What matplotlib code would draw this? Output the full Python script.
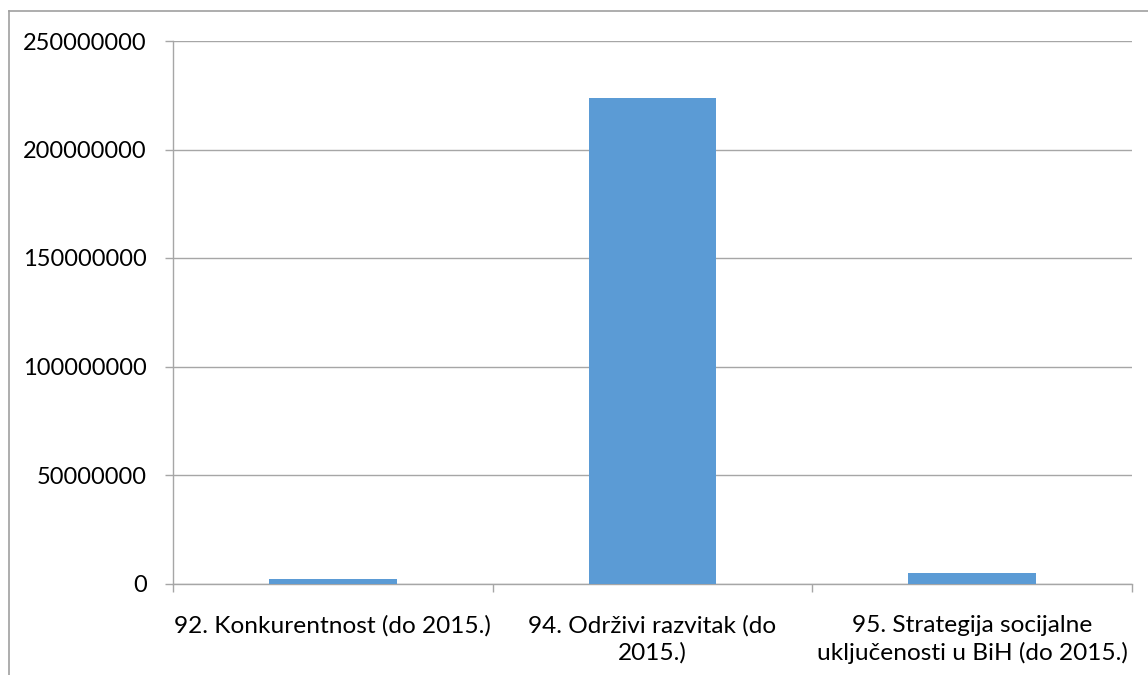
import matplotlib.pyplot as plt
from matplotlib.lines import Line2D
from matplotlib.ticker import MultipleLocator

# values
categories = [
    "92. Konkurentnost (do 2015.)",
    "94. Održivi razvitak (do\n2015.)",
    "95. Strategija socijalne\nuključenosti u BiH (do 2015.)",
]
amounts = [1950000, 223600000, 4700000]

BAR_COLOR = "#5B9BD5"
GRID_COLOR = "#A6A6A6"
FONT = ["Lato", "DejaVu Sans"]

plt.rcParams["font.family"] = FONT

fig = plt.figure(figsize=(11.48, 6.75), dpi=100)
ax = fig.add_axes([173 / 1148, 1 - 583.5 / 675, (1132 - 173) / 1148, (583.5 - 41) / 675])

positions = list(range(len(categories)))
ax.bar(positions, amounts, width=0.4, color=BAR_COLOR, zorder=3)

ax.set_xlim(-0.5, len(categories) - 0.5)
ax.set_ylim(0, 250000000)
ax.yaxis.set_major_locator(MultipleLocator(50000000))
ax.yaxis.set_major_formatter(plt.FuncFormatter(lambda v, _: f"{int(v)}"))
ax.grid(axis="y", color=GRID_COLOR, linewidth=1.0, zorder=0)

# category labels sit between boundary ticks, like Excel
ax.set_xticks(positions)
ax.set_xticklabels(categories, fontsize=17.6, linespacing=1.3)
ax.set_xticks([p - 0.5 for p in positions] + [len(categories) - 0.5], minor=True)
ax.tick_params(axis="x", which="major", length=0, pad=23)
ax.tick_params(axis="x", which="minor", length=6, color=GRID_COLOR, width=1.0)
ax.tick_params(axis="y", length=6, color=GRID_COLOR, width=1.0, pad=13, labelsize=17)

for side in ("top", "right"):
    ax.spines[side].set_visible(False)
for side in ("left", "bottom"):
    ax.spines[side].set_color(GRID_COLOR)
    ax.spines[side].set_linewidth(1.0)

# chart border, cropped at the right and bottom
fig.add_artist(Line2D([9 / 1148, 9 / 1148], [0, 1 - 11 / 675], transform=fig.transFigure,
                      color="#A0A0A0", linewidth=1.2))
fig.add_artist(Line2D([9 / 1148, 1], [1 - 11 / 675, 1 - 11 / 675], transform=fig.transFigure,
                      color="#A0A0A0", linewidth=1.2))

fig.savefig("out.png", dpi=100)
plt.close(fig)
